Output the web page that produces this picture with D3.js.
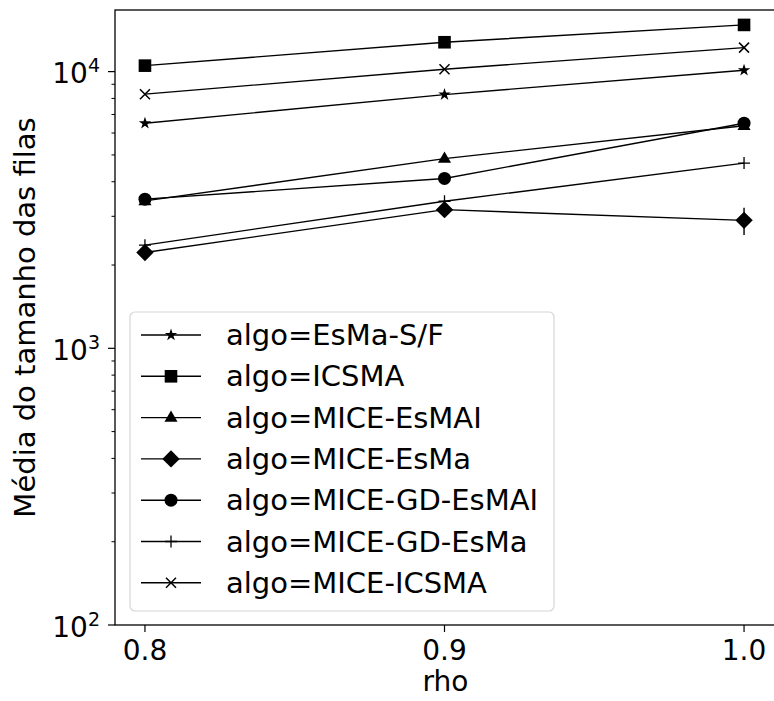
<!DOCTYPE html>
<html>
<head>
<meta charset="utf-8">
<script src="https://cdn.jsdelivr.net/npm/d3@7"></script>
<style>
  html, body { margin: 0; padding: 0; background: #fff; }
  svg { display: block; font-family: "DejaVu Sans", sans-serif; }
</style>
</head>
<body>
<div id="chart"></div>
<script>
// data
var rho = [0.8, 0.9, 1.0];
var algos = ["algo=EsMa-S/F", "algo=ICSMA", "algo=MICE-EsMAI", "algo=MICE-EsMa",
             "algo=MICE-GD-EsMAI", "algo=MICE-GD-EsMa", "algo=MICE-ICSMA"];
var markers = ["star", "square", "triangle", "diamond", "circle", "plus", "cross"];

var esmaSF    = [6510, 8260, 10120];
var icsma     = [10510, 12770, 14750];
var miceEsmai = [3410, 4850, 6370];
var miceEsma  = [2220, 3170, 2900];
var gdEsmai   = [3460, 4110, 6510];
var gdEsma    = [2360, 3400, 4670];
var miceIcsma = [8290, 10200, 12210];

// error bars (only visible one: MICE-EsMa at rho=1.0)
var miceEsmaLow  = [2220, 3170, 2570];
var miceEsmaHigh = [2220, 3170, 3220];

var yTickValues = [100, 1000, 10000];
var yTickExp = ["2", "3", "4"];
var xTickValues = [0.8, 0.9, 1.0];

var series = [esmaSF, icsma, miceEsmai, miceEsma, gdEsmai, gdEsma, miceIcsma];

//// LAYOUT ///////////////////////////////////////////////////////////////////

var W = 774, H = 701;
var pLeft = 115, pRight = 774, pTop = 10, pBottom = 625;

var svg = d3.select("#chart").append("svg")
  .attr("width", W).attr("height", H);

var x = d3.scaleLinear().domain([0.79, 1.01]).range([pLeft, pRight]);
var y = d3.scaleLog().domain([100, 16700]).range([pBottom, pTop]);

var FS = 28;

//// MARKERS //////////////////////////////////////////////////////////////////

function drawMarker(g, kind, cx, cy) {
  var m = g.append("g").attr("transform", "translate(" + cx + "," + cy + ")");
  if (kind === "square") {
    m.append("rect").attr("x", -6.3).attr("y", -6.3).attr("width", 12.6).attr("height", 12.6)
      .attr("fill", "#000");
  } else if (kind === "circle") {
    m.append("circle").attr("r", 6.5).attr("fill", "#000");
  } else if (kind === "triangle") {
    m.append("path").attr("d", d3.symbol(d3.symbolTriangle, 74)()).attr("transform", "translate(0,0.5)")
      .attr("fill", "#000");
  } else if (kind === "diamond") {
    m.append("path").attr("d", "M0,-8.7L8.7,0L0,8.7L-8.7,0Z").attr("fill", "#000");
  } else if (kind === "star") {
    m.append("path").attr("d", d3.symbol(d3.symbolStar, 48)()).attr("fill", "#000");
  } else if (kind === "plus") {
    m.append("path").attr("d", "M-6,0H6M0,-6V6").attr("stroke", "#000").attr("stroke-width", 1.3);
  } else if (kind === "cross") {
    m.append("path").attr("d", "M-5,-5L5,5M-5,5L5,-5").attr("stroke", "#000").attr("stroke-width", 1.5);
  }
}

//// AXES /////////////////////////////////////////////////////////////////////

var axisG = svg.append("g");

// minor y ticks
var minor = [];
for (var e = 2; e < 5; e++) {
  for (var k = 2; k <= 9; k++) {
    var v = k * Math.pow(10, e);
    if (v < 16700) minor.push(v);
  }
}
axisG.selectAll("line.minor").data(minor).enter().append("line")
  .attr("x1", pLeft - 3.5).attr("x2", pLeft)
  .attr("y1", function(d) { return y(d); }).attr("y2", function(d) { return y(d); })
  .attr("stroke", "#000").attr("stroke-width", 1);

axisG.selectAll("line.ymajor").data(yTickValues).enter().append("line")
  .attr("x1", pLeft - 7).attr("x2", pLeft)
  .attr("y1", function(d) { return y(d); }).attr("y2", function(d) { return y(d); })
  .attr("stroke", "#000").attr("stroke-width", 1.2);

var yl = axisG.selectAll("text.ylab").data(yTickValues).enter().append("text")
  .attr("x", 100).attr("y", function(d) { return y(d) + 11.5; })
  .attr("text-anchor", "end").style("font-size", FS + "px");
yl.append("tspan").text("10");
yl.append("tspan").attr("dy", -11).style("font-size", "19px")
  .text(function(d, i) { return yTickExp[i]; });

axisG.selectAll("line.xmajor").data(xTickValues).enter().append("line")
  .attr("x1", function(d) { return x(d); }).attr("x2", function(d) { return x(d); })
  .attr("y1", pBottom).attr("y2", pBottom + 7)
  .attr("stroke", "#000").attr("stroke-width", 1.2);

axisG.selectAll("text.xlab").data(xTickValues).enter().append("text")
  .attr("x", function(d) { return x(d); }).attr("y", 660)
  .attr("text-anchor", "middle").style("font-size", FS + "px")
  .text(function(d) { return d3.format(".1f")(d); });

svg.append("text").attr("x", x(0.9) + 1).attr("y", 691)
  .attr("text-anchor", "middle").style("font-size", FS + "px").text("rho");

svg.append("text")
  .attr("transform", "translate(35," + ((pTop + pBottom) / 2) + ") rotate(-90)")
  .attr("text-anchor", "middle").style("font-size", "29px")
  .text("Média do tamanho das filas");

//// SERIES ///////////////////////////////////////////////////////////////////

var line = d3.line()
  .x(function(d, i) { return x(rho[i]); })
  .y(function(d) { return y(d); });

var plot = svg.append("g");

series.forEach(function(s, si) {
  plot.append("path").attr("d", line(s))
    .attr("fill", "none").attr("stroke", "#000").attr("stroke-width", 1.4);
  if (si === 3) {
    rho.forEach(function(r, i) {
      plot.append("line")
        .attr("x1", x(r)).attr("x2", x(r))
        .attr("y1", y(miceEsmaLow[i])).attr("y2", y(miceEsmaHigh[i]))
        .attr("stroke", "#000").attr("stroke-width", 1.4);
    });
  }
  s.forEach(function(v, i) { drawMarker(plot, markers[si], x(rho[i]), y(v)); });
});

// frame (right spine falls just past the picture edge)
svg.append("rect").attr("x", pLeft).attr("y", pTop)
  .attr("width", pRight - pLeft + 3).attr("height", pBottom - pTop)
  .attr("fill", "none").attr("stroke", "#000").attr("stroke-width", 1.3);

//// LEGEND ///////////////////////////////////////////////////////////////////

var leg = svg.append("g");
leg.append("rect").attr("x", 130).attr("y", 312).attr("width", 424).attr("height", 299)
  .attr("rx", 5).attr("fill", "#fff").attr("fill-opacity", 0.8)
  .attr("stroke", "#d6d6d6").attr("stroke-width", 1.2);

algos.forEach(function(name, i) {
  var ly = 335 + i * 41.3;
  leg.append("line").attr("x1", 141).attr("x2", 201).attr("y1", ly).attr("y2", ly)
    .attr("stroke", "#000").attr("stroke-width", 1.4);
  drawMarker(leg, markers[i], 171, ly);
  leg.append("text").attr("x", 226).attr("y", ly + 10)
    .style("font-size", "29px").text(name);
});
</script>
</body>
</html>
